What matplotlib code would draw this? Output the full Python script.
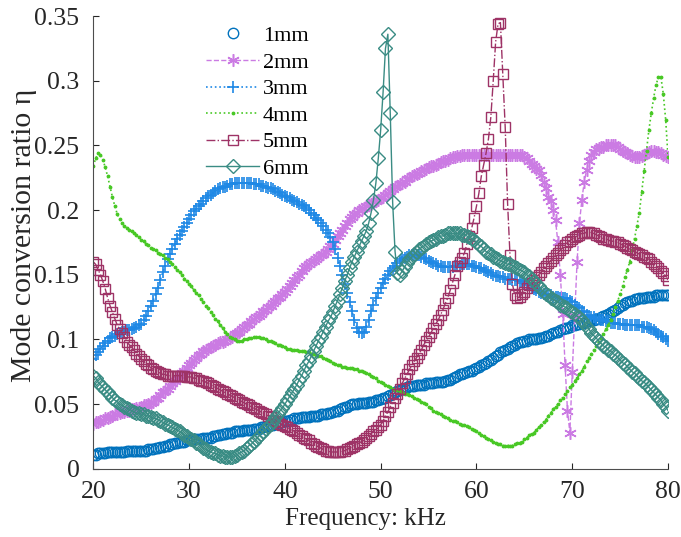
import numpy as np
import matplotlib
matplotlib.use("Agg")
import matplotlib.pyplot as plt

plt.rcParams['font.family'] = ['Liberation Serif', 'DejaVu Serif']
plt.rcParams['font.size'] = 14

# frequency grid, 0.25 kHz step
freq = np.arange(20, 80.001, 0.25)

eta_1mm = [
    .011, .011, .012, .012, .012, .012, .013, .013, .013, .013, .013, .013, .013, .013, .014, .014, .014, .014, .014, .014,
    .014, .014, .014, .015, .015, .015, .016, .016, .017, .017, .018, .018, .019, .019, .020, .020, .021, .021, .021, .022,
    .022, .022, .023, .023, .023, .023, .024, .024, .024, .024, .025, .025, .026, .026, .027, .027, .028, .028, .028, .029,
    .029, .029, .029, .030, .030, .030, .030, .031, .031, .031, .032, .032, .033, .033, .034, .034, .035, .035, .036, .036,
    .037, .037, .038, .038, .039, .039, .039, .040, .040, .040, .040, .041, .041, .041, .041, .042, .042, .042, .043, .043,
    .044, .045, .045, .046, .047, .048, .048, .049, .050, .050, .050, .051, .051, .051, .051, .052, .052, .052, .053, .053,
    .054, .055, .055, .056, .057, .058, .059, .060, .061, .062, .062, .063, .064, .064, .064, .065, .065, .065, .065, .066,
    .066, .066, .066, .067, .067, .067, .067, .068, .069, .069, .070, .071, .072, .073, .073, .074, .075, .076, .076, .077,
    .078, .079, .080, .081, .082, .083, .084, .086, .087, .088, .090, .091, .092, .093, .094, .095, .096, .097, .098, .098,
    .099, .099, .100, .100, .100, .100, .101, .101, .102, .103, .103, .104, .105, .106, .106, .107, .108, .109, .109, .110,
    .111, .111, .112, .112, .113, .113, .114, .114, .115, .115, .116, .116, .117, .118, .119, .120, .121, .122, .123, .124,
    .126, .127, .128, .129, .130, .130, .131, .131, .132, .132, .132, .133, .133, .133, .133, .134, .134, .134, .134, .134,
    .134]

eta_2mm = [
    .035, .036, .036, .037, .038, .039, .039, .040, .041, .042, .042, .043, .044, .044, .045, .045, .046, .046, .047, .047,
    .048, .049, .049, .050, .051, .052, .054, .055, .057, .059, .060, .062, .064, .066, .068, .070, .072, .074, .076, .078,
    .080, .082, .084, .086, .088, .089, .091, .092, .093, .094, .095, .096, .097, .098, .098, .099, .100, .101, .102, .104,
    .105, .106, .108, .110, .111, .112, .114, .116, .117, .118, .120, .122, .123, .125, .126, .128, .130, .132, .133, .135,
    .137, .139, .141, .144, .146, .148, .150, .153, .155, .157, .158, .160, .161, .162, .164, .165, .166, .168, .170, .172,
    .174, .177, .180, .182, .185, .188, .190, .193, .195, .197, .198, .200, .201, .202, .203, .204, .205, .206, .207, .208,
    .209, .210, .212, .213, .215, .216, .218, .219, .220, .221, .222, .224, .225, .226, .227, .228, .229, .230, .231, .232,
    .233, .234, .234, .235, .236, .237, .238, .238, .239, .240, .241, .241, .242, .242, .243, .243, .243, .243, .243, .243,
    .243, .243, .243, .243, .243, .243, .243, .243, .243, .243, .243, .243, .243, .243, .243, .243, .243, .243, .243, .243,
    .241, .240, .238, .236, .234, .232, .231, .227, .222, .217, .210, .207, .200, .192, .175, .150, .120, .080, .045, .028,
    .075, .118, .160, .190, .208, .222, .231, .238, .243, .245, .247, .248, .249, .249, .250, .250, .250, .250, .250, .249,
    .247, .246, .245, .244, .243, .242, .241, .241, .241, .242, .243, .244, .245, .246, .246, .245, .245, .244, .243, .242,
    .241]

eta_3mm = [
    .085, .088, .090, .093, .095, .097, .099, .101, .102, .103, .104, .105, .106, .106, .107, .107, .108, .109, .110, .111,
    .112, .115, .118, .122, .126, .130, .135, .140, .146, .152, .157, .162, .166, .170, .174, .178, .181, .184, .187, .190,
    .193, .196, .199, .201, .203, .205, .207, .209, .211, .212, .213, .215, .216, .217, .218, .218, .219, .220, .220, .221,
    .221, .221, .221, .221, .221, .221, .221, .220, .220, .220, .219, .219, .218, .217, .217, .216, .215, .214, .213, .212,
    .211, .210, .209, .208, .207, .206, .205, .204, .203, .202, .200, .198, .196, .194, .192, .190, .188, .185, .182, .179,
    .175, .170, .163, .157, .150, .143, .136, .129, .122, .115, .109, .106, .105, .106, .110, .115, .122, .127, .132, .136,
    .140, .144, .147, .150, .153, .155, .157, .159, .161, .162, .163, .164, .165, .165, .165, .165, .165, .164, .163, .162,
    .161, .160, .159, .158, .157, .157, .156, .156, .156, .156, .156, .157, .157, .157, .158, .158, .158, .158, .157, .157,
    .156, .155, .155, .154, .153, .152, .151, .150, .149, .149, .148, .148, .147, .147, .147, .146, .146, .146, .145, .145,
    .144, .143, .142, .140, .139, .138, .137, .136, .135, .135, .134, .134, .133, .133, .133, .132, .132, .132, .131, .130,
    .129, .127, .125, .124, .122, .121, .119, .118, .117, .117, .116, .116, .115, .115, .114, .114, .113, .113, .113, .112,
    .112, .112, .111, .111, .111, .111, .111, .111, .111, .110, .110, .110, .109, .108, .107, .106, .104, .103, .102, .100,
    .099]

eta_4mm = [
    .234, .240, .244, .243, .239, .233, .226, .218, .210, .203, .197, .193, .190, .188, .186, .185, .184, .182, .181, .179,
    .177, .176, .174, .173, .171, .170, .169, .167, .166, .165, .163, .162, .160, .158, .156, .154, .152, .150, .147, .145,
    .143, .141, .138, .136, .134, .131, .129, .126, .124, .121, .119, .116, .114, .111, .109, .106, .104, .102, .101, .100,
    .099, .099, .099, .100, .100, .101, .101, .102, .102, .102, .101, .101, .100, .099, .099, .098, .097, .096, .096, .095,
    .094, .093, .093, .092, .092, .092, .091, .091, .091, .090, .090, .089, .089, .088, .087, .087, .086, .085, .084, .083,
    .082, .081, .080, .080, .079, .079, .078, .078, .078, .077, .077, .076, .076, .075, .074, .073, .072, .071, .070, .068,
    .067, .066, .065, .064, .063, .062, .061, .061, .060, .059, .058, .058, .057, .056, .055, .054, .053, .052, .051, .050,
    .048, .047, .045, .044, .043, .042, .041, .040, .039, .038, .037, .037, .036, .035, .034, .034, .033, .032, .031, .030,
    .029, .028, .026, .025, .024, .023, .022, .021, .020, .019, .019, .018, .018, .018, .018, .018, .019, .020, .020, .021,
    .023, .024, .026, .027, .028, .030, .032, .034, .036, .038, .041, .043, .046, .048, .050, .053, .055, .058, .060, .063,
    .065, .068, .070, .073, .076, .079, .083, .086, .089, .092, .095, .098, .101, .104, .108, .111, .115, .120, .125, .130,
    .135, .141, .148, .154, .160, .169, .178, .188, .198, .214, .230, .246, .262, .275, .287, .297, .303, .303, .290, .270,
    .241]

eta_5mm = [
    .160, .158, .154, .150, .145, .139, .132, .126, .121, .116, .111, .108, .105, .102, .098, .096, .094, .092, .089, .087,
    .085, .083, .081, .080, .078, .077, .076, .075, .074, .073, .073, .072, .072, .072, .072, .072, .072, .072, .072, .071,
    .071, .071, .070, .070, .069, .068, .068, .067, .066, .065, .064, .063, .062, .061, .060, .059, .058, .057, .056, .055,
    .054, .053, .052, .051, .050, .049, .048, .047, .046, .045, .044, .043, .042, .041, .040, .038, .037, .036, .035, .034,
    .033, .032, .031, .030, .029, .028, .026, .025, .024, .023, .022, .020, .019, .018, .017, .016, .015, .014, .014, .013,
    .013, .013, .013, .013, .014, .014, .015, .016, .017, .018, .019, .020, .021, .022, .024, .025, .027, .029, .030, .032,
    .034, .037, .041, .044, .048, .051, .055, .058, .062, .066, .070, .073, .077, .080, .083, .086, .089, .092, .096, .099,
    .102, .105, .109, .112, .115, .119, .123, .128, .132, .138, .144, .150, .157, .160, .163, .167, .174, .180, .186, .194,
    .203, .213, .226, .235, .244, .255, .272, .300, .330, .344, .345, .305, .264, .205, .165, .143, .134, .132, .133, .135,
    .137, .140, .142, .144, .146, .148, .150, .152, .155, .157, .159, .161, .163, .165, .167, .169, .171, .173, .175, .176,
    .178, .179, .180, .181, .182, .182, .183, .183, .182, .182, .181, .180, .179, .178, .178, .177, .176, .176, .175, .175,
    .174, .173, .172, .171, .170, .169, .168, .167, .166, .165, .164, .163, .162, .160, .158, .157, .155, .153, .151, .149,
    .146]

eta_6mm = [
    .072, .070, .067, .065, .063, .061, .059, .057, .055, .053, .052, .050, .049, .048, .047, .046, .045, .044, .043, .043,
    .042, .042, .041, .041, .040, .039, .039, .038, .037, .036, .035, .034, .033, .032, .031, .030, .029, .028, .026, .025,
    .024, .023, .022, .020, .019, .018, .016, .015, .014, .013, .012, .012, .011, .010, .010, .009, .009, .009, .009, .010,
    .011, .012, .013, .014, .016, .018, .019, .021, .023, .025, .027, .029, .031, .033, .035, .037, .040, .042, .045, .047,
    .050, .053, .056, .059, .062, .065, .069, .072, .076, .080, .083, .087, .091, .095, .099, .102, .106, .110, .114, .117,
    .121, .126, .130, .135, .140, .145, .150, .155, .160, .164, .168, .172, .176, .180, .184, .190, .198, .208, .221, .240,
    .262, .291, .325, .336, .275, .206, .168, .151, .150, .153, .156, .159, .162, .164, .166, .168, .170, .171, .172, .174,
    .175, .176, .177, .178, .179, .180, .180, .181, .182, .182, .182, .182, .182, .182, .181, .181, .180, .179, .178, .177,
    .175, .173, .172, .170, .168, .167, .166, .164, .163, .162, .161, .160, .159, .158, .158, .157, .156, .155, .154, .153,
    .152, .150, .149, .147, .145, .143, .141, .139, .137, .135, .134, .132, .131, .130, .129, .127, .126, .125, .124, .122,
    .121, .120, .118, .117, .115, .113, .110, .108, .105, .103, .101, .099, .097, .095, .094, .092, .091, .089, .088, .086,
    .084, .082, .081, .079, .077, .075, .074, .072, .070, .068, .067, .065, .063, .061, .059, .057, .055, .053, .050, .048,
    .045]

labels = ['1mm', '2mm', '3mm', '4mm', '5mm', '6mm']
xticks = [20, 30, 40, 50, 60, 70, 80]
yticks = [0, 0.05, 0.1, 0.15, 0.2, 0.25, 0.3, 0.35]
ytick_labels = ['0', '0.05', '0.1', '0.15', '0.2', '0.25', '0.3', '0.35']

fig = plt.figure(figsize=(6.81, 5.37), dpi=100)
ax = fig.add_axes([0.137, 0.127, 0.844, 0.843])

ax.plot(freq, eta_1mm, linestyle='none', marker='o', ms=7.5, mfc='none',
        mec='#0072BD', mew=1.0, label=labels[0])
ax.plot(freq, eta_2mm, linestyle='--', color='#CB7BE3', lw=1.0,
        marker=(6, 2, 0), ms=9, mew=1.1, label=labels[1])
ax.plot(freq, eta_3mm, linestyle=':', color='#1E88E5', lw=1.2, marker='+',
        ms=8.5, mew=1.2, label=labels[2])
ax.plot(freq, eta_4mm, linestyle=':', color='#48C825', lw=1.2, marker='.',
        ms=3.5, label=labels[3])
ax.plot(freq, eta_5mm, linestyle='-.', color='#9E3366', lw=1.0, marker='s',
        ms=7.5, mfc='none', mew=1.0, label=labels[4])
ax.plot(freq, eta_6mm, linestyle='-', color='#3A8C84', lw=1.0, marker='D',
        ms=7.0, mfc='none', mew=1.0, label=labels[5])

ax.set_xlim(20, 80)
ax.set_ylim(0, 0.35)
ax.set_xticks(xticks)
ax.set_yticks(yticks)
ax.set_yticklabels(ytick_labels)
ax.tick_params(direction='in', length=4, width=0.8, colors='#262626',
               labelsize=18.5)
ax.tick_params(axis='x', pad=9)
ax.tick_params(axis='y', pad=10)
for side in ['top', 'right']:
    ax.spines[side].set_visible(False)
for side in ['left', 'bottom']:
    ax.spines[side].set_color('#4d4d4d')
    ax.spines[side].set_linewidth(0.8)

ax.set_xlabel('Frequency: kHz', fontsize=18, color='#262626')
ax.set_ylabel('Mode conversion ratio η', fontsize=21.5, color='#262626')
ax.xaxis.set_label_coords(0.474, -0.086)
ax.yaxis.set_label_coords(-0.098, 0.515)

ax.legend(loc='upper left', bbox_to_anchor=(0.196, 0.979), frameon=False,
          borderpad=0, borderaxespad=0, handlelength=2.4, handletextpad=0.15,
          labelspacing=0.27, numpoints=1, fontsize=16)

fig.savefig('out.png', dpi=100)
